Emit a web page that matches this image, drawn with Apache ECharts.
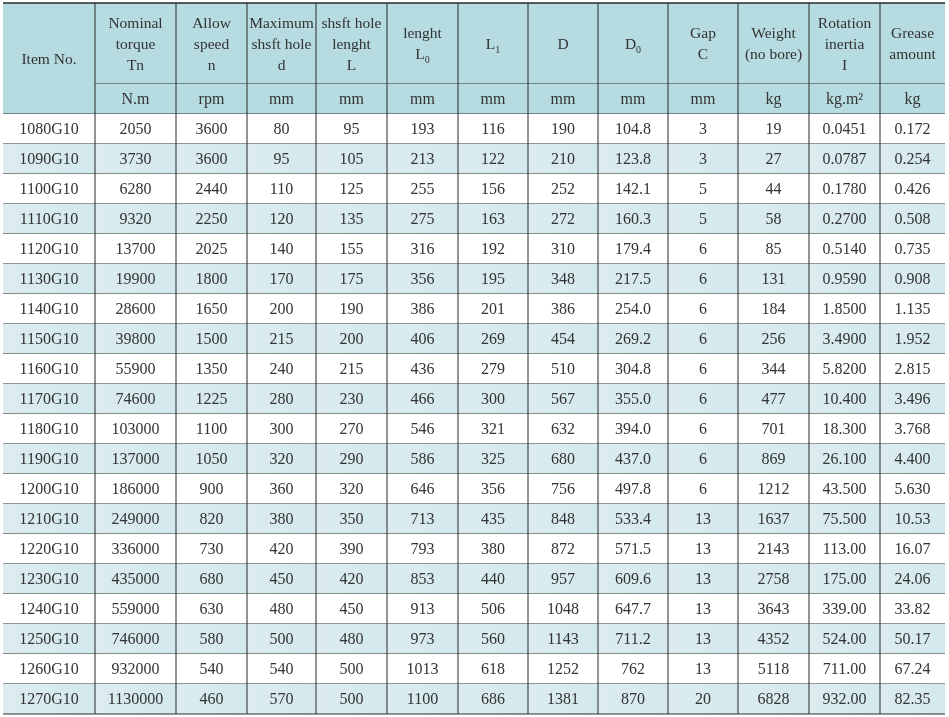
<!DOCTYPE html>
<html><head><meta charset="utf-8">
<script src="https://cdn.jsdelivr.net/npm/echarts@6/dist/echarts.min.js"></script>
<style>html,body{margin:0;padding:0;background:#fff}#c{width:949px;height:717px}</style>
</head><body><div id="c"></div>
<script>
// header texts ({s|..} = small subscript)
const headers = ['Item No.', 'Nominal\ntorque\nTn', 'Allow\nspeed\nn', 'Maximum\nshsft hole\nd', 'shsft hole\nlenght\nL',
  'lenght\nL{s|0}', 'L{s|1}', 'D', 'D{s|0}', 'Gap\nC', 'Weight\n(no bore)', 'Rotation\ninertia\nI', 'Grease\namount'];
const units = ['', 'N.m', 'rpm', 'mm', 'mm', 'mm', 'mm', 'mm', 'mm', 'mm', 'kg', 'kg.m²', 'kg'];

const itemNo = ['1080G10','1090G10','1100G10','1110G10','1120G10','1130G10','1140G10','1150G10','1160G10','1170G10',
  '1180G10','1190G10','1200G10','1210G10','1220G10','1230G10','1240G10','1250G10','1260G10','1270G10'];
const torque = ['2050','3730','6280','9320','13700','19900','28600','39800','55900','74600','103000','137000','186000','249000','336000','435000','559000','746000','932000','1130000'];
const speed = ['3600','3600','2440','2250','2025','1800','1650','1500','1350','1225','1100','1050','900','820','730','680','630','580','540','460'];
const holeD = ['80','95','110','120','140','170','200','215','240','280','300','320','360','380','420','450','480','500','540','570'];
const holeL = ['95','105','125','135','155','175','190','200','215','230','270','290','320','350','390','420','450','480','500','500'];
const len0 = ['193','213','255','275','316','356','386','406','436','466','546','586','646','713','793','853','913','973','1013','1100'];
const len1 = ['116','122','156','163','192','195','201','269','279','300','321','325','356','435','380','440','506','560','618','686'];
const diaD = ['190','210','252','272','310','348','386','454','510','567','632','680','756','848','872','957','1048','1143','1252','1381'];
const diaD0 = ['104.8','123.8','142.1','160.3','179.4','217.5','254.0','269.2','304.8','355.0','394.0','437.0','497.8','533.4','571.5','609.6','647.7','711.2','762','870'];
const gapC = ['3','3','5','5','6','6','6','6','6','6','6','6','6','13','13','13','13','13','13','20'];
const weight = ['19','27','44','58','85','131','184','256','344','477','701','869','1212','1637','2143','2758','3643','4352','5118','6828'];
const inertia = ['0.0451','0.0787','0.1780','0.2700','0.5140','0.9590','1.8500','3.4900','5.8200','10.400','18.300','26.100','43.500','75.500','113.00','175.00','339.00','524.00','711.00','932.00'];
const grease = ['0.172','0.254','0.426','0.508','0.735','0.908','1.135','1.952','2.815','3.496','3.768','4.400','5.630','10.53','16.07','24.06','33.82','50.17','67.24','82.35'];

const columns = [itemNo, torque, speed, holeD, holeL, len0, len1, diaD, diaD0, gapC, weight, inertia, grease];

// layout (pixel edges)
const colEdges = [3, 95, 176, 247, 316, 387, 458, 528, 598, 668, 738, 809, 880, 945];
const headTop = 3, headMid = 84, headBot = 114, rowH = 30;

const cells = [];
headers.forEach((h, c) => cells.push({ value: [c, -2], kind: 'head', text: h }));
units.forEach((u, c) => { if (c > 0) cells.push({ value: [c, -1], kind: 'unit', text: u }); });
columns.forEach((col, c) => col.forEach((v, r) => cells.push({ value: [c, r], kind: r % 2 ? 'odd' : 'even', text: v })));

const chart = echarts.init(document.getElementById('c'));
const line = '#2a2a2a';
const font = '"Liberation Serif", "DejaVu Serif", serif';

function renderItem(params, api) {
  const d = cells[params.dataIndex];
  const c = d.value[0], r = d.value[1];
  let y0, y1, fill;
  if (r === -2) { y0 = headTop; y1 = c === 0 ? headBot : headMid; fill = '#b6dbe0'; }
  else if (r === -1) { y0 = headMid; y1 = headBot; fill = '#b6dbe0'; }
  else { y0 = headBot + r * rowH; y1 = y0 + rowH; fill = r % 2 ? { type: 'linear', x: 0, y: 0, x2: 1, y2: 0, colorStops: [{ offset: 0, color: '#dcecef' }, { offset: 1, color: '#d3e9ee' }] } : '#ffffff'; }
  const p0 = api.coord([colEdges[c], y0]);
  const p1 = api.coord([colEdges[c + 1], y1]);
  const w = p1[0] - p0[0], h = p1[1] - p0[1];
  const children = [
    { type: 'rect', shape: { x: p0[0], y: p0[1], width: w, height: h }, style: { fill: fill } },
    { type: 'line', shape: { x1: p0[0], y1: p1[1], x2: p1[0], y2: p1[1] }, style: { stroke: line, lineWidth: 1 } }
  ];
  if (c > 0) children.push({ type: 'line', shape: { x1: p0[0], y1: p0[1], x2: p0[0], y2: p1[1] }, style: { stroke: line, lineWidth: 1 } });
  if (r === -2) children.push({ type: 'line', shape: { x1: p0[0], y1: p0[1], x2: p1[0], y2: p0[1] }, style: { stroke: line, lineWidth: 1.5 } });
  const isHead = r === -2;
  children.push({
    type: 'text',
    style: {
      x: p0[0] + w / 2, y: p0[1] + h / 2 + 1, text: d.text, align: 'center', verticalAlign: 'middle',
      fill: '#333', fontFamily: font, fontSize: isHead ? 15.5 : 16, lineHeight: isHead ? 21 : 18,
      rich: { s: { fontSize: 10, fontFamily: font, fill: '#333', verticalAlign: 'bottom', padding: [8, 0, 0, 0] } }
    }
  });
  return { type: 'group', children: children };
}

chart.setOption({
  animation: false,
  grid: { left: 0, right: 0, top: 0, bottom: 0 },
  xAxis: { type: 'value', min: 0, max: 949, show: false },
  yAxis: { type: 'value', min: 0, max: 717, inverse: true, show: false },
  series: [{ type: 'custom', renderItem: renderItem, data: cells.map(d => d.value), silent: true }]
});
</script></body></html>
